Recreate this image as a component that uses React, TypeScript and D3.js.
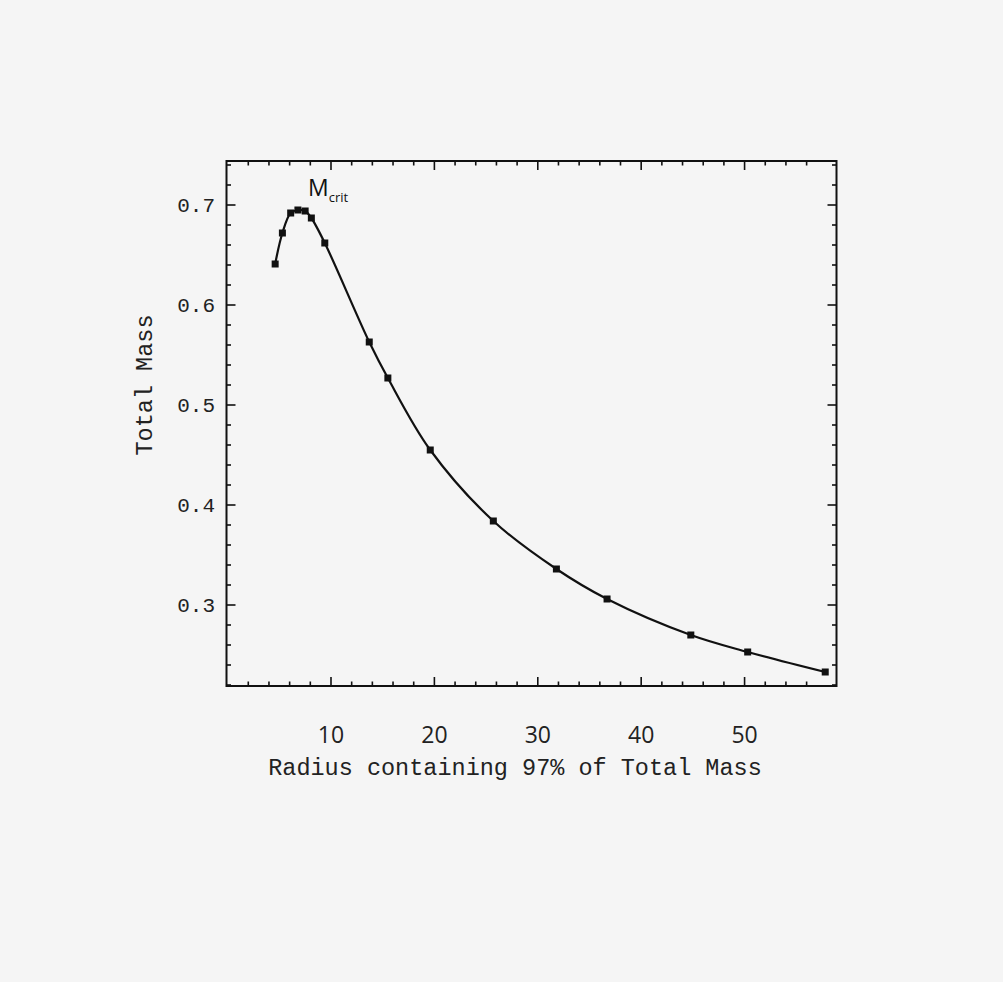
import React from "react";
import * as d3 from "d3";

// radius containing 97% of total mass vs total mass
const radius = [4.6, 5.3, 6.1, 6.8, 7.5, 8.1, 9.4, 13.7, 15.5, 19.6, 25.7, 31.8, 36.7, 44.8, 50.3, 57.8];
const totalMass = [0.641, 0.672, 0.692, 0.695, 0.694, 0.687, 0.662, 0.563, 0.527, 0.455, 0.384, 0.336, 0.306, 0.27, 0.253, 0.233];

const xMajor = [10, 20, 30, 40, 50];
const yMajor = [0.3, 0.4, 0.5, 0.6, 0.7];

const W = 1003;
const H = 982;
const box = { left: 226.5, right: 836.5, top: 161, bottom: 686 };

const x = d3.scaleLinear().domain([0, 58.9]).range([227.6, 836.6]);
const y = d3.scaleLinear().domain([0.219, 0.744]).range([686, 161]);

const xMinor = d3.range(2, 58, 2).filter(v => v % 10 !== 0);
const yMinor = d3.range(0.22, 0.745, 0.02).map(v => +v.toFixed(2)).filter(v => Math.round(v * 100) % 10 !== 0);

const points = radius.map((r, i) => ({ r, m: totalMass[i] }));

const line = d3
  .line<{ r: number; m: number }>()
  .x(d => x(d.r))
  .y(d => y(d.m))
  .curve(d3.curveCatmullRom.alpha(0.5));

const mono = "'Liberation Mono', 'DejaVu Sans Mono', monospace";
const sans = "'Open Sans', 'DejaVu Sans', sans-serif";

export default function App() {
  const major = 9;
  const minor = 4.5;
  return (
    <svg width={W} height={H} style={{ position: "absolute", left: 0, top: 0 }}>
      <rect x={0} y={0} width={W} height={H} fill="#f5f5f5" />

      {/* ticks, inward on all four sides */}
      <g stroke="#111" strokeWidth={1.6}>
        {xMajor.map(v => (
          <g key={"xM" + v}>
            <line x1={x(v)} x2={x(v)} y1={box.bottom} y2={box.bottom - major} />
            <line x1={x(v)} x2={x(v)} y1={box.top} y2={box.top + major} />
          </g>
        ))}
        {xMinor.map(v => (
          <g key={"xm" + v}>
            <line x1={x(v)} x2={x(v)} y1={box.bottom} y2={box.bottom - minor} />
            <line x1={x(v)} x2={x(v)} y1={box.top} y2={box.top + minor} />
          </g>
        ))}
        {yMajor.map(v => (
          <g key={"yM" + v}>
            <line x1={box.left} x2={box.left + major} y1={y(v)} y2={y(v)} />
            <line x1={box.right} x2={box.right - major} y1={y(v)} y2={y(v)} />
          </g>
        ))}
        {yMinor.map(v => (
          <g key={"ym" + v}>
            <line x1={box.left} x2={box.left + minor} y1={y(v)} y2={y(v)} />
            <line x1={box.right} x2={box.right - minor} y1={y(v)} y2={y(v)} />
          </g>
        ))}
      </g>

      <rect
        x={box.left}
        y={box.top}
        width={box.right - box.left}
        height={box.bottom - box.top}
        fill="none"
        stroke="#111"
        strokeWidth={2}
      />

      <path d={line(points) || ""} fill="none" stroke="#111" strokeWidth={2.2} />
      {points.map((d, i) => (
        <rect key={i} x={x(d.r) - 3.5} y={y(d.m) - 3.5} width={7} height={7} fill="#111" />
      ))}

      {/* y tick labels */}
      {yMajor.map(v => (
        <text
          key={"yl" + v}
          x={215}
          y={y(v)}
          dy="0.35em"
          textAnchor="end"
          fontFamily={mono}
          fontSize={21}
          fill="#222"
        >
          {v.toFixed(1)}
        </text>
      ))}

      {/* x tick labels */}
      {xMajor.map(v => (
        <text
          key={"xl" + v}
          x={x(v)}
          y={743}
          textAnchor="middle"
          fontFamily={sans}
          fontSize={23}
          fill="#222"
        >
          {v}
        </text>
      ))}

      <text x={515} y={775} textAnchor="middle" fontFamily={mono} fontSize={23.5} fill="#222">
        Radius containing 97% of Total Mass
      </text>
      <text
        transform="translate(152,385) rotate(-90)"
        textAnchor="middle"
        fontFamily={mono}
        fontSize={23.5}
        fill="#222"
      >
        Total Mass
      </text>

      <text x={308} y={196} fontFamily={sans} fontSize={23} fill="#111">
        M
        <tspan dx={0} dy={6} fontSize={13}>
          crit
        </tspan>
      </text>
    </svg>
  );
}
